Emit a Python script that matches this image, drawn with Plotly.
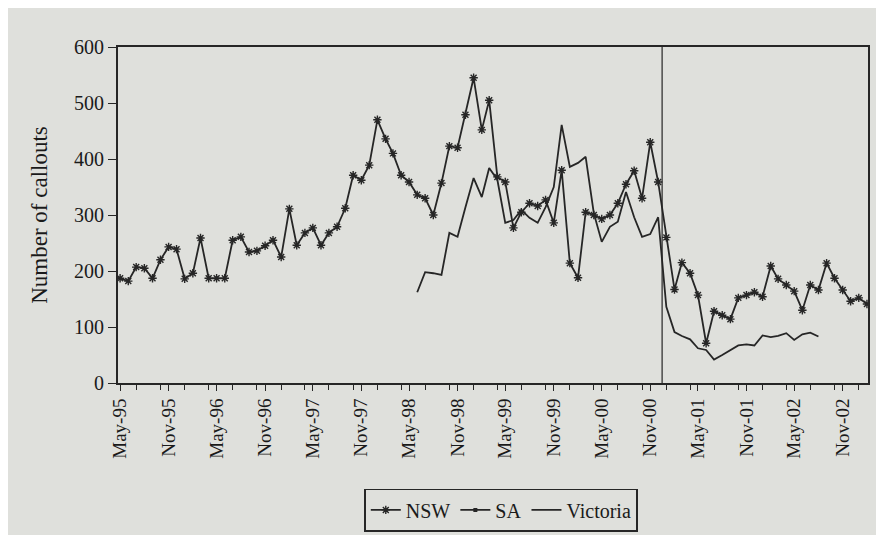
import plotly.graph_objects as go
import pandas as pd

# Monthly callouts, starting May 1995
nsw_start = "1995-05-01"
nsw_values = [187, 182, 207, 205, 187, 220, 243, 239, 186, 196,
              259, 187, 187, 187, 255, 261, 234, 236, 245, 255,
              225, 311, 246, 268, 277, 246, 268, 279, 312, 371,
              362, 389, 470, 436, 410, 371, 359, 336, 330, 300,
              357, 423, 420, 479, 545, 452, 505, 368, 359, 277,
              305, 321, 316, 327, 286, 380, 214, 188, 305, 300,
              293, 300, 321, 355, 379, 330, 430, 359,
              260, 167, 215, 196, 157, 71, 128, 121, 114, 152,
              157, 162, 154, 209, 186, 175, 164, 130, 175, 166,
              214, 187, 166, 146, 152, 141]

vic_start = "1998-06-01"
vic_values = [162, 198, 196, 193, 268, 261, 314, 366, 332, 384,
              363, 286, 291, 309, 295, 286, 314, 350, 461, 386,
              393, 404, 303, 252, 279, 288, 341, 296, 261, 266,
              296, 136, 91, 84, 78, 62, 59, 42, 50, 58,
              67, 69, 67, 85, 82, 84, 89, 77, 87, 90, 83]

sa_values = []  # SA series not distinguishable in the source picture

policy_change = "2000-12-16"

nsw_dates = pd.date_range(nsw_start, periods=len(nsw_values), freq="MS")
vic_dates = pd.date_range(vic_start, periods=len(vic_values), freq="MS")

ink = "#262626"
serif = "Liberation Serif"
paper = "#dfe0dc"

fig = go.Figure()
fig.add_trace(go.Scatter(
    x=nsw_dates, y=nsw_values, name="NSW", mode="lines+markers",
    line=dict(color=ink, width=1.8),
    marker=dict(symbol="asterisk-open", size=7, color=ink,
                line=dict(color=ink, width=1.4)),
))
fig.add_trace(go.Scatter(
    x=[None], y=[None], name="SA", mode="lines+markers",
    line=dict(color=ink, width=1.8),
    marker=dict(symbol="square", size=4, color=ink),
))
fig.add_trace(go.Scatter(
    x=vic_dates, y=vic_values, name="Victoria", mode="lines",
    line=dict(color=ink, width=1.8),
))

fig.add_shape(type="line", xref="x", yref="paper",
              x0=policy_change, x1=policy_change, y0=0, y1=1,
              line=dict(color=ink, width=1.2))

fig.update_layout(
    width=871, height=527,
    margin=dict(l=110, r=11, t=39, b=152),
    paper_bgcolor=paper,
    plot_bgcolor=paper,
    font=dict(family=serif, size=18, color="#1a1a1a"),
    showlegend=True,
    legend=dict(orientation="h", xref="container", yref="container",
                x=0.566, y=0.088, xanchor="center", yanchor="top",
                bordercolor=ink, borderwidth=1.8, bgcolor="rgba(0,0,0,0)",
                font=dict(family=serif, size=20), tracegroupgap=0),
)
fig.update_xaxes(
    type="date", range=["1995-04-23", "2003-02-05"], automargin=False,
    tick0="1995-05-01", dtick="M6", tickformat="%b-%y", tickangle=-90,
    ticks="outside", ticklen=6, tickwidth=1.3, tickcolor=ink,
    minor=dict(dtick="M3", ticks="outside", ticklen=5, tickwidth=1.3, tickcolor=ink),
    showline=True, linecolor=ink, linewidth=2, mirror=True,
    showgrid=False, zeroline=False,
    tickfont=dict(family=serif, size=19),
)
fig.update_yaxes(
    range=[0, 600], dtick=100, automargin=False,
    ticks="outside", ticklen=8, tickwidth=1.3, tickcolor=ink,
    showline=True, linecolor=ink, linewidth=2, mirror=True,
    showgrid=False, zeroline=False,
    title=dict(text="Number of callouts", font=dict(family=serif, size=23), standoff=20),
    tickfont=dict(family=serif, size=20),
)

fig.write_html("out.html")
